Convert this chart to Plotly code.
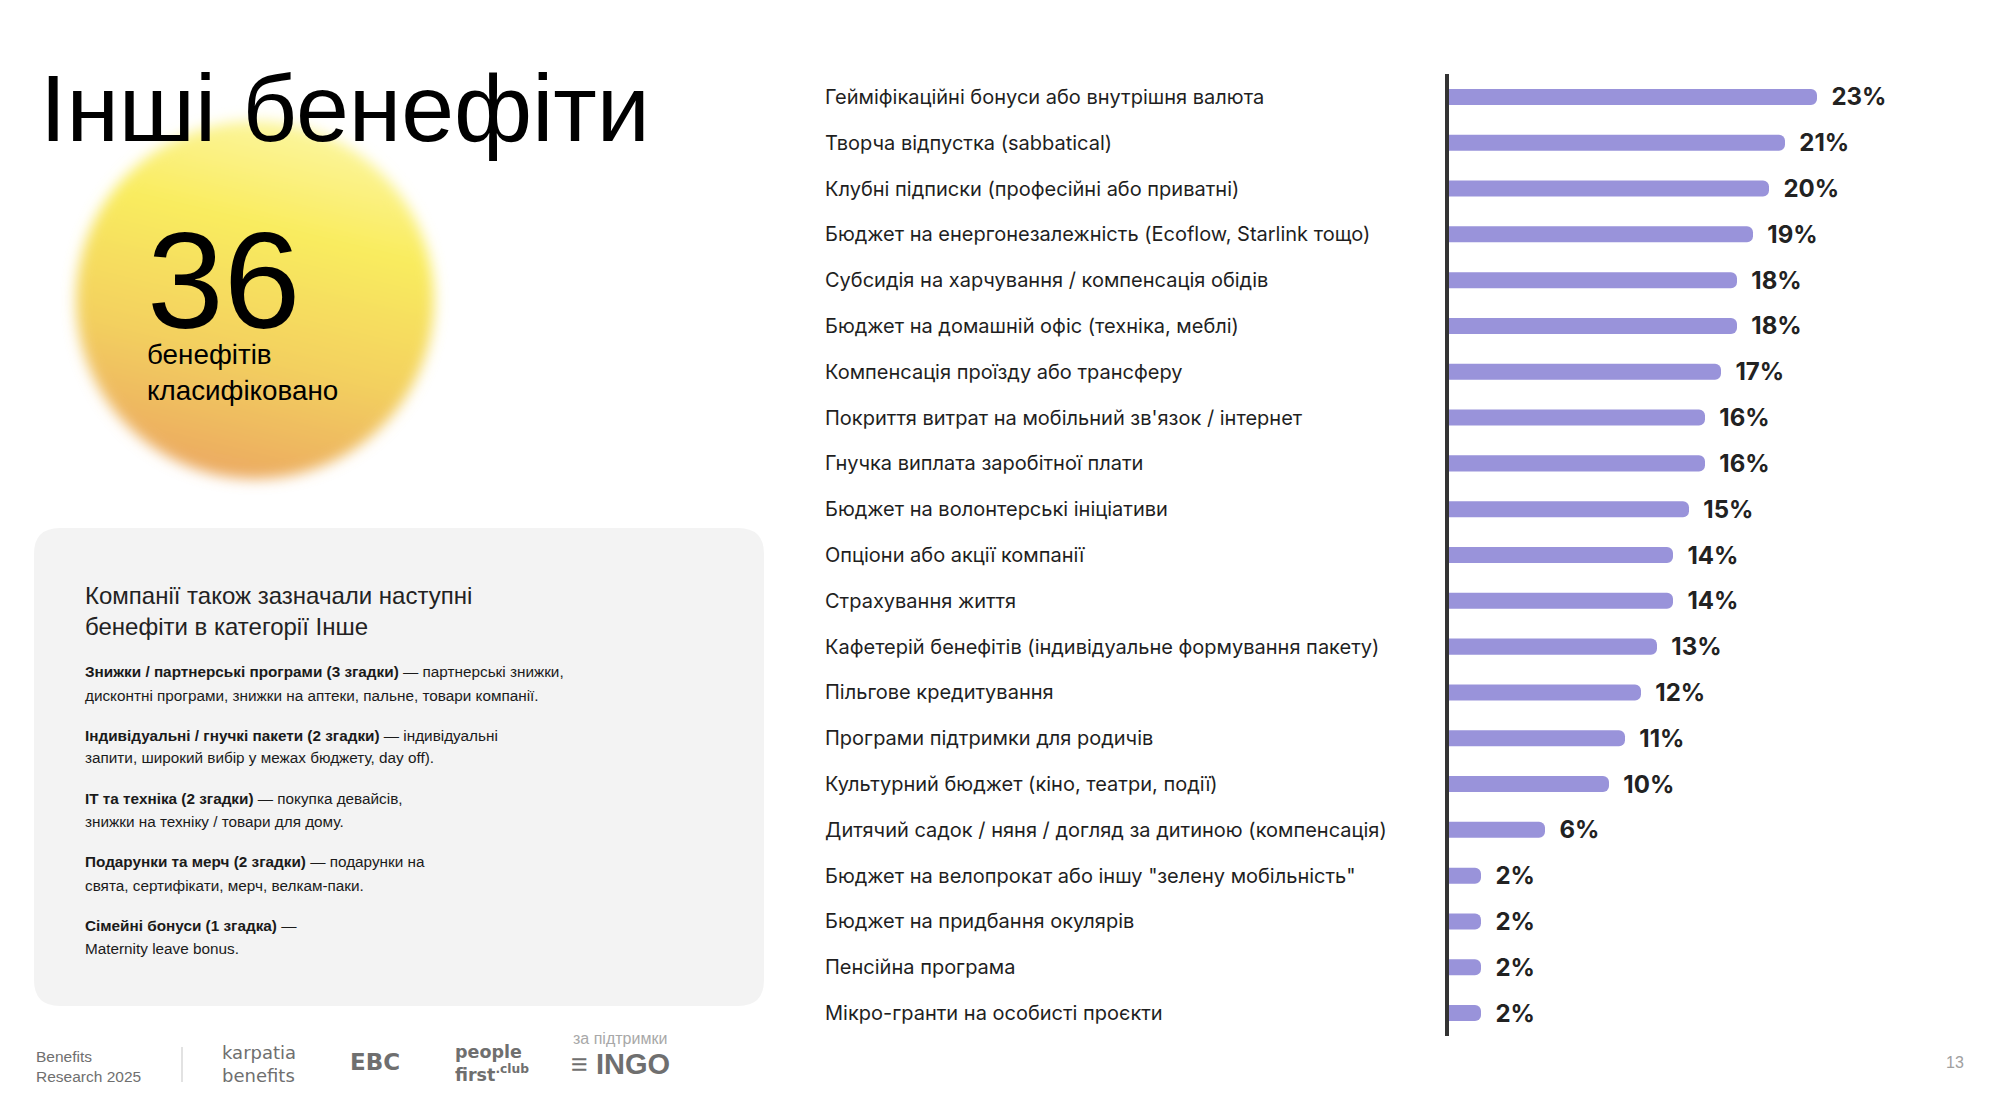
import base64
import plotly.graph_objects as go

W, H = 1996, 1098

# ---------------- data ----------------
categories = [
    "Гейміфікаційні бонуси або внутрішня валюта",
    "Творча відпустка (sabbatical)",
    "Клубні підписки (професійні або приватні)",
    "Бюджет на енергонезалежність (Ecoflow, Starlink тощо)",
    "Субсидія на харчування / компенсація обідів",
    "Бюджет на домашній офіс (техніка, меблі)",
    "Компенсація проїзду або трансферу",
    "Покриття витрат на мобільний зв'язок / інтернет",
    "Гнучка виплата заробітної плати",
    "Бюджет на волонтерські ініціативи",
    "Опціони або акції компанії",
    "Страхування життя",
    "Кафетерій бенефітів (індивідуальне формування пакету)",
    "Пільгове кредитування",
    "Програми підтримки для родичів",
    "Культурний бюджет (кіно, театри, події)",
    "Дитячий садок / няня / догляд за дитиною (компенсація)",
    "Бюджет на велопрокат або іншу \"зелену мобільність\"",
    "Бюджет на придбання окулярів",
    "Пенсійна програма",
    "Мікро-гранти на особисті проєкти",
]
values = [23, 21, 20, 19, 18, 18, 17, 16, 16, 15, 14, 14, 13, 12, 11, 10, 6, 2, 2, 2, 2]
value_labels = [f"{v}%" for v in values]

title_text = "Інші бенефіти"
kpi_value = "36"
kpi_lines = ["бенефітів", "класифіковано"]

box_heading = ["Компанії також зазначали наступні", "бенефіти в категорії Інше"]
box_lines = [
    "<b>Знижки / партнерські програми (3 згадки)</b> — партнерські знижки,",
    "дисконтні програми, знижки на аптеки, пальне, товари компанії.",
    "<b>Індивідуальні / гнучкі пакети (2 згадки)</b> — індивідуальні",
    "запити, широкий вибір у межах бюджету, day off).",
    "<b>IT та техніка (2 згадки)</b> — покупка девайсів,",
    "знижки на техніку / товари для дому.",
    "<b>Подарунки та мерч (2 згадки)</b> — подарунки на",
    "свята, сертифікати, мерч, велкам-паки.",
    "<b>Сімейні бонуси (1 згадка)</b> —",
    "Maternity leave bonus.",
]

# ---------------- helpers ----------------
def px(x):
    return x / W


def py(y):
    return 1 - y / H


def sized(text, size):
    return f"<span style='font-size:{size}px'>{text}</span>"


BAR_COLOR = "#9993DA"
TEXT = "#1f1f1f"
LEFT_FONT = "Liberation Sans, Arial, sans-serif"
CHART_FONT = "Inter, Roboto, sans-serif"

fig = go.Figure()

fig.add_trace(go.Bar(
    x=values,
    y=categories,
    orientation="h",
    marker=dict(color=BAR_COLOR, line=dict(width=0)),
    text=["\u00a0\u00a0" + t for t in value_labels],
    textposition="outside",
    textfont=dict(family=CHART_FONT, size=24, color="#222222", weight=700),
    constraintext="none",
    cliponaxis=False,
    hoverinfo="skip",
))

annotations = []

# category labels (left aligned)
for c in categories:
    annotations.append(dict(
        x=px(823), xref="paper", xanchor="left",
        y=c, yref="y", yanchor="middle",
        text=c, showarrow=False,
        font=dict(family=CHART_FONT, size=20, color=TEXT),
    ))

# title
annotations.append(dict(
    x=px(38), y=py(108), xref="paper", yref="paper", xanchor="left", yanchor="middle",
    text=title_text, showarrow=False,
    font=dict(family=LEFT_FONT, size=95, color="#000000"),
))
# KPI block: big number + two lines, one text with tight line spacing
kpi_text = sized(kpi_value, 138) + "<br>" + "<br>".join(kpi_lines)
annotations.append(dict(
    x=px(145), y=py(201), xref="paper", yref="paper", xanchor="left", yanchor="top",
    text=kpi_text, showarrow=False, align="left",
    font=dict(family=LEFT_FONT, size=27.8, color="#000000"),
))

# grey box text
for i, t in enumerate(box_heading):
    annotations.append(dict(
        x=px(83), y=py(595 + i * 31), xref="paper", yref="paper", xanchor="left", yanchor="middle",
        text=t, showarrow=False,
        font=dict(family=LEFT_FONT, size=24, color="#222222"),
    ))
line_y = [671, 695, 735, 757, 798, 821, 862, 885, 925, 948]
for t, yy in zip(box_lines, line_y):
    annotations.append(dict(
        x=px(83), y=py(yy), xref="paper", yref="paper", xanchor="left", yanchor="middle",
        text=t, showarrow=False,
        font=dict(family=LEFT_FONT, size=15.3, color="#1a1a1a"),
    ))

# footer
GREY = "#6f6f6f"
footer = [
    (34, 1066, "Benefits<br>Research 2025", 15.5, GREY, LEFT_FONT),
    (220, 1064, "karpatia<br>benefits", 18, GREY, "DejaVu Sans, sans-serif"),
    (348, 1062, "<b>EBC</b>", 23, GREY, "DejaVu Sans, sans-serif"),
    (453, 1063, "<b>people</b><br><b>first</b><sup><b>.club</b></sup>", 17.5, GREY, "DejaVu Sans, sans-serif"),
    (571, 1038, "за підтримки", 16, "#a8a8a8", LEFT_FONT),
    (569, 1064, "<b>≡ INGO</b>", 29, GREY, LEFT_FONT),
]
for x, y, t, s, col, fam in footer:
    annotations.append(dict(
        x=px(x), y=py(y), xref="paper", yref="paper", xanchor="left", yanchor="middle",
        text=t, showarrow=False, align="left", font=dict(family=fam, size=s, color=col),
    ))
annotations.append(dict(
    x=px(1966), y=py(1062), xref="paper", yref="paper", xanchor="right", yanchor="middle",
    text="13", showarrow=False, font=dict(family=LEFT_FONT, size=16, color="#a0a0a0"),
))

# ---------------- shapes ----------------
x0, x1, top, bot = px(34), px(764), py(528), py(1006)
rx, ry = 26 / W, 26 / H
box_path = (
    f"M {x0+rx},{top} L {x1-rx},{top} Q {x1},{top} {x1},{top-ry} "
    f"L {x1},{bot+ry} Q {x1},{bot} {x1-rx},{bot} "
    f"L {x0+rx},{bot} Q {x0},{bot} {x0},{bot+ry} "
    f"L {x0},{top-ry} Q {x0},{top} {x0+rx},{top} Z"
)
shapes = [
    dict(type="path", xref="paper", yref="paper", path=box_path,
         fillcolor="#F3F3F3", line=dict(width=0), layer="below"),
    dict(type="line", xref="paper", yref="paper", x0=px(182), x1=px(182),
         y0=py(1047), y1=py(1082), line=dict(color="#d8d8d8", width=1.5)),
]

# soft yellow glow (decorative)
svg = """<svg xmlns="http://www.w3.org/2000/svg" width="440" height="440" viewBox="0 0 440 440">
<defs>
<linearGradient id="g" x1="0.62" y1="0" x2="0.38" y2="1">
<stop offset="0" stop-color="#FCF6A0"/>
<stop offset="0.3" stop-color="#F9EC5E"/>
<stop offset="0.65" stop-color="#F3D05F"/>
<stop offset="1" stop-color="#EBA862"/>
</linearGradient>
<filter id="b" x="-20%" y="-20%" width="140%" height="140%"><feGaussianBlur stdDeviation="7"/></filter>
</defs>
<circle cx="220" cy="220" r="179" fill="url(#g)" filter="url(#b)"/>
</svg>"""
glow_src = "data:image/svg+xml;base64," + base64.b64encode(svg.encode("utf-8")).decode("ascii")

images = [dict(
    source=glow_src, xref="paper", yref="paper",
    x=px(35), y=py(80), sizex=440 / W, sizey=440 / H,
    xanchor="left", yanchor="top", sizing="stretch", layer="below",
)]

# ---------------- layout ----------------
n = len(categories)
fig.update_layout(
    width=W, height=H,
    margin=dict(l=0, r=0, t=0, b=0),
    paper_bgcolor="white", plot_bgcolor="rgba(0,0,0,0)",
    showlegend=False,
    bargap=0.65,
    barcornerradius=6,
    xaxis=dict(domain=[px(1449), px(1897)], range=[0, 28], visible=False, fixedrange=True),
    yaxis=dict(
        domain=[py(1036), py(74)],
        categoryorder="array", categoryarray=categories,
        range=[n - 0.5, -0.5],
        showticklabels=False, ticks="", showgrid=False, zeroline=False,
        showline=True, linecolor="#333333", linewidth=4,
        fixedrange=True,
    ),
    annotations=annotations,
    shapes=shapes,
    images=images,
    font=dict(family=CHART_FONT),
)

fig.write_html(
    "out.html",
    config={"displayModeBar": False},
    post_script="document.body.style.margin='0';document.body.style.overflow='hidden';",
)
